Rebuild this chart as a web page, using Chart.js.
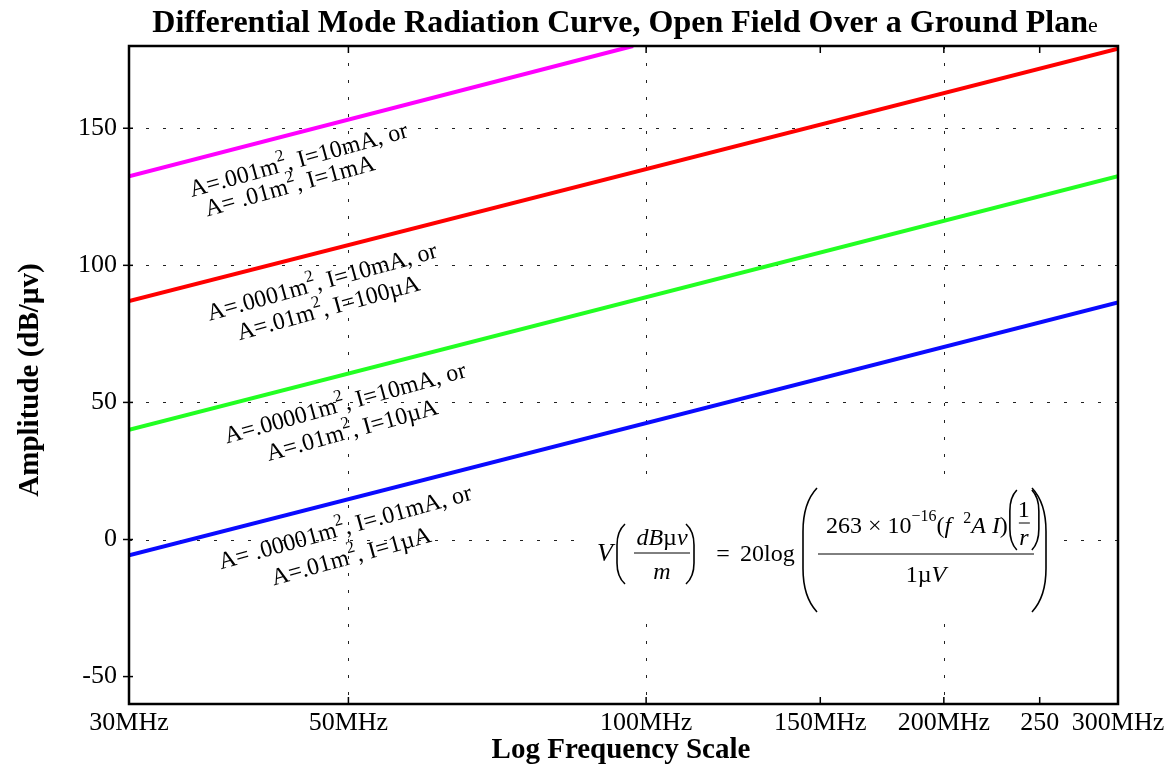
<!DOCTYPE html>
<html>
<head>
<meta charset="utf-8">
<script src="https://cdn.jsdelivr.net/npm/chart.js@4.4.1/dist/chart.umd.min.js"></script>
<style>
  html, body { margin: 0; padding: 0; background: #fff; }
  #wrap { width: 1169px; height: 768px; }
</style>
</head>
<body>
<div id="wrap"><canvas id="radChart" width="1169" height="768"></canvas></div>
<script>
// axes: frequency in MHz (log), amplitude in dB(uV/m)
const xTicks = [30, 50, 100, 150, 200, 250, 300];
const xTickLabels = ['30MHz', '50MHz', '100MHz', '150MHz', '200MHz', '250', '300MHz'];
const xGridAt = [50, 100, 200];
const yTicks = [-50, 0, 50, 100, 150];
const yGridAt = [0, 50, 100, 150];

// end points of the four radiation curves
const lineFreqs = [30, 300];
const magentaFreqs = [30, 97];
const magentaLevels = [132.5, 180];
const redLevels = [87, 179];
const greenLevels = [40, 132.5];
const blueLevels = [-5.8, 86.5];

const SERIF = '"Liberation Serif", "Times New Roman", serif';

const toPoints = (fs, vs) => fs.map((f, i) => ({ x: f, y: vs[i] }));

// curve captions, [normal, superscript, normal] pieces, anchored in data coords
const notes = [
    { f: 44.5, v: 138.7, parts: ['A=.001m', '2', ', I=10mA, or'] },
    { f: 43.6, v: 129.2, parts: ['A= .01m', '2', ', I=1mA'] },
    { f: 47.0, v: 94.2, parts: ['A=.0001m', '2', ', I=10mA, or'] },
    { f: 47.7, v: 84.7, parts: ['A=.01m', '2', ', I=100\u00b5A'] },
    { f: 49.6, v: 50.0, parts: ['A=.00001m', '2', ', I=10mA, or'] },
    { f: 50.4, v: 40.1, parts: ['A=.01m', '2', ', I=10\u00b5A'] },
    { f: 49.6, v: 4.7, parts: ['A= .00001m', '2', ', I=.01mA, or'] },
    { f: 50.3, v: -5.9, parts: ['A=.01m', '2', ', I=1\u00b5A'] }
];
const noteAngle = 15.5 * Math.PI / 180;

// draws a row of {t, font, dy} pieces, aligned on x
function drawRich(ctx, segs, x, y, align) {
    let total = 0;
    segs.forEach(s => { ctx.font = s.font; s.w = ctx.measureText(s.t).width; total += s.w; });
    let cx = align === 'center' ? x - total / 2 : x;
    ctx.textAlign = 'left';
    segs.forEach(s => {
        ctx.font = s.font;
        ctx.fillText(s.t, cx, y + (s.dy || 0));
        cx += s.w;
    });
    return cx;
}

function paren(ctx, x, top, bottom, open, w) {
    const h = bottom - top;
    const tip = open ? x + w : x - w;
    ctx.beginPath();
    ctx.moveTo(tip, top);
    ctx.quadraticCurveTo(x, top + h * 0.12, x, top + h * 0.35);
    ctx.lineTo(x, bottom - h * 0.35);
    ctx.quadraticCurveTo(x, bottom - h * 0.12, tip, bottom);
    ctx.lineWidth = 1.6;
    ctx.stroke();
}

function hline(ctx, x1, x2, y) {
    ctx.beginPath();
    ctx.moveTo(x1, y);
    ctx.lineTo(x2, y);
    ctx.lineWidth = 1;
    ctx.stroke();
}

function drawFormula(ctx) {
    ctx.save();
    ctx.fillStyle = '#fff';
    ctx.fillRect(582, 484, 478, 130);
    ctx.fillStyle = '#000';
    ctx.strokeStyle = '#000';
    ctx.textBaseline = 'alphabetic';

    const it = 'italic 24px ' + SERIF;
    const rm = '24px ' + SERIF;
    const sm = '16px ' + SERIF;

    // V(dBuv / m)
    ctx.font = 'italic 26px ' + SERIF;
    ctx.textAlign = 'left';
    ctx.fillText('V', 597, 561);
    paren(ctx, 617, 524, 584, true, 8);
    drawRich(ctx, [{ t: 'dB', font: it }, { t: '\u00b5', font: rm }, { t: 'v', font: it }], 662, 545, 'center');
    hline(ctx, 634, 690, 553);
    drawRich(ctx, [{ t: 'm', font: it }], 662, 579, 'center');
    paren(ctx, 694, 524, 584, false, 8);

    ctx.font = rm;
    ctx.textAlign = 'center';
    ctx.fillText('=', 723, 561);
    ctx.textAlign = 'left';
    ctx.fillText('20log', 740, 561);

    paren(ctx, 803, 488, 612, true, 14);
    let x = drawRich(ctx, [
        { t: '263 \u00d7 10', font: rm },
        { t: '\u221216', font: sm, dy: -12 },
        { t: '(', font: rm },
        { t: 'f', font: it },
        { t: '   ', font: sm },
        { t: '2', font: sm, dy: -10 },
        { t: 'A I', font: it },
        { t: ')', font: rm }
    ], 826, 533, 'left');
    paren(ctx, x + 2, 490, 550, true, 7);
    drawRich(ctx, [{ t: '1', font: rm }], x + 16, 517, 'center');
    hline(ctx, x + 11, x + 22, 523);
    drawRich(ctx, [{ t: 'r', font: it }], x + 16, 545, 'center');
    paren(ctx, x + 31, 490, 550, false, 7);

    hline(ctx, 818, 1034, 554);
    drawRich(ctx, [{ t: '1\u00b5', font: rm }, { t: 'V', font: it }], 926, 582, 'center');
    paren(ctx, 1046, 488, 612, false, 14);
    ctx.restore();
}

const decorations = {
    id: 'decorations',
    beforeDatasetsDraw(chart) {
        const { ctx, chartArea: a, scales: { x, y } } = chart;
        ctx.save();
        ctx.strokeStyle = '#222';
        ctx.lineWidth = 1;
        ctx.setLineDash([3, 14]);
        xGridAt.forEach(v => {
            const px = Math.round(x.getPixelForValue(v)) + 0.5;
            ctx.beginPath(); ctx.moveTo(px, a.top); ctx.lineTo(px, a.bottom); ctx.stroke();
        });
        yGridAt.forEach(v => {
            const py = Math.round(y.getPixelForValue(v)) + 0.5;
            ctx.beginPath(); ctx.moveTo(a.left, py); ctx.lineTo(a.right, py); ctx.stroke();
        });
        ctx.restore();
    },
    afterDatasetsDraw(chart) {
        const { ctx, scales: { x, y } } = chart;
        drawFormula(ctx);
        ctx.save();
        ctx.fillStyle = '#000';
        ctx.textBaseline = 'alphabetic';
        const rm = '24px ' + SERIF;
        const sup = '17px ' + SERIF;
        notes.forEach(n => {
            ctx.save();
            ctx.translate(x.getPixelForValue(n.f), y.getPixelForValue(n.v));
            ctx.rotate(-noteAngle);
            drawRich(ctx, [
                { t: n.parts[0], font: rm },
                { t: n.parts[1], font: sup, dy: -11 },
                { t: n.parts[2], font: rm }
            ], 0, 8, 'center');
            ctx.restore();
        });
        ctx.restore();
    },
    afterDraw(chart) {
        const { ctx, chartArea: a, scales: { x, y } } = chart;
        ctx.save();
        ctx.strokeStyle = '#000';
        ctx.lineWidth = 2.5;
        ctx.strokeRect(a.left, a.top, a.right - a.left, a.bottom - a.top);
        ctx.lineWidth = 1.5;
        xTicks.forEach(v => {
            const px = x.getPixelForValue(v);
            ctx.beginPath();
            ctx.moveTo(px, a.top); ctx.lineTo(px, a.top + 7);
            ctx.moveTo(px, a.bottom); ctx.lineTo(px, a.bottom - 7);
            ctx.stroke();
        });
        yTicks.forEach(v => {
            const py = y.getPixelForValue(v);
            ctx.beginPath();
            ctx.moveTo(a.left - 6, py); ctx.lineTo(a.left + 4, py);
            ctx.stroke();
        });

        // titles
        ctx.fillStyle = '#000';
        ctx.textBaseline = 'alphabetic';
        drawRich(ctx, [
            { t: 'Differential Mode Radiation Curve, Open Field Over a Ground Plan', font: 'bold 32px ' + SERIF },
            { t: 'e', font: '22px ' + SERIF }
        ], 625, 32, 'center');
        ctx.font = 'bold 29px ' + SERIF;
        ctx.textAlign = 'center';
        ctx.fillText('Log Frequency Scale', 621, 758);
        ctx.translate(38, 380);
        ctx.rotate(-Math.PI / 2);
        ctx.fillText('Amplitude (dB/\u00b5v)', 0, 0);
        ctx.restore();
    }
};

const tickFont = { family: SERIF, size: 26 };

new Chart(document.getElementById('radChart'), {
    type: 'line',
    data: {
        datasets: [
            { data: toPoints(magentaFreqs, magentaLevels), borderColor: '#FF00FF' },
            { data: toPoints(lineFreqs, redLevels), borderColor: '#FF0000' },
            { data: toPoints(lineFreqs, greenLevels), borderColor: '#22FF22' },
            { data: toPoints(lineFreqs, blueLevels), borderColor: '#0A0AFF' }
        ]
    },
    options: {
        responsive: false,
        animation: false,
        datasets: { line: { borderWidth: 4, pointRadius: 0, tension: 0, fill: false } },
        layout: { padding: { top: 46, right: 51, left: 0, bottom: 0 } },
        plugins: { legend: { display: false }, tooltip: { enabled: false } },
        scales: {
            x: {
                type: 'logarithmic',
                min: 30,
                max: 300,
                afterBuildTicks: s => { s.ticks = xTicks.map(v => ({ value: v })); },
                afterFit: s => { s.height = 64; },
                ticks: {
                    autoSkip: false,
                    maxRotation: 0,
                    padding: 4,
                    color: '#000',
                    font: tickFont,
                    callback: (v, i) => xTickLabels[i]
                },
                grid: { display: false, drawTicks: false },
                border: { display: false }
            },
            y: {
                min: -60,
                max: 180,
                afterBuildTicks: s => { s.ticks = yTicks.map(v => ({ value: v })); },
                afterFit: s => { s.width = 129; },
                ticks: { padding: 12, color: '#000', font: tickFont },
                grid: { display: false, drawTicks: false },
                border: { display: false }
            }
        }
    },
    plugins: [decorations]
});
</script>
</body>
</html>
